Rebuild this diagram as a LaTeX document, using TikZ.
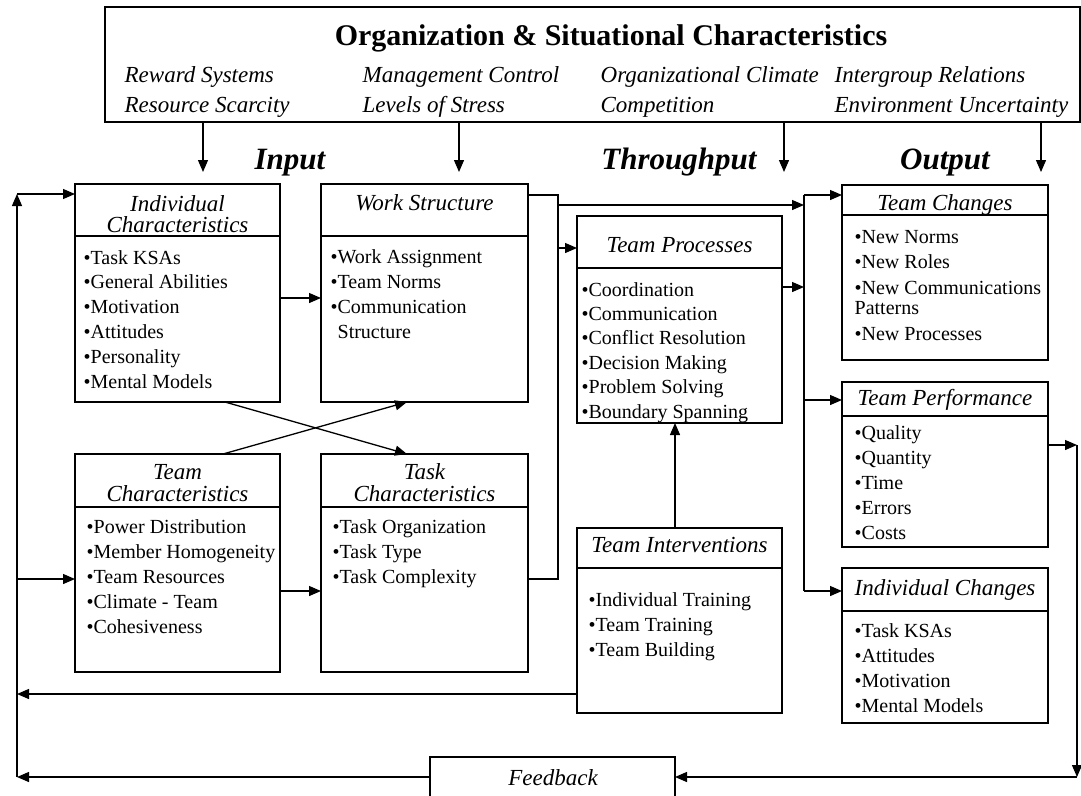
\documentclass[tikz,border=0pt]{standalone}
\usepackage{fontspec}
\setmainfont{Liberation Serif}
\usetikzlibrary{arrows.meta}

% a titled panel: name, x1, y1, x2, y2, y of the rule under the title
\newcommand\panel[6]{%
  \node[box, minimum width={#4-#2}, minimum height={#5-#3}] (#1) at ({(#2+#4)/2},{(#3+#5)/2}) {};
  \draw (#1.west |- 0,#6) -- (#1.east |- 0,#6);}
% a bulleted list: name prefix, x, first baseline, line step, items
\newcommand\bullets[5]{%
  \foreach \t [count=\i from 0] in {#5}
    \node[itm, name=#1-\i] at (#2,{#3+\i*#4}) {•\t};}

\begin{document}
\begin{tikzpicture}[x=1pt,y=-1pt,line width=1.3pt,
  arr/.style={-{Triangle[length=12pt,width=10pt]}},
  box/.style={draw,rectangle,inner sep=0pt,outer sep=0pt},
  ttl/.style={font=\fontsize{23}{23}\selectfont\itshape,inner sep=0pt,anchor=base},
  itm/.style={font=\fontsize{20}{20}\selectfont,inner sep=0pt,anchor=base west},
  org/.style={font=\fontsize{23}{23}\selectfont\itshape,inner sep=0pt,anchor=base west},
  phase/.style={font=\fontsize{31}{31}\selectfont\bfseries\itshape,inner sep=0pt,anchor=base}]
\useasboundingbox (0,0) rectangle (1081,795);

% organization and situational characteristics
\node[box,minimum width=975pt,minimum height=115pt] (orgbox) at (592.5,64.5) {};
\node[font=\fontsize{30}{30}\selectfont\bfseries,inner sep=0pt,anchor=base] (orgtitle) at (611,45) {Organization \& Situational Characteristics};
\node[org] (o1) at (124,82) {Reward Systems};
\node[org] (o2) at (362,82) {Management Control};
\node[org] (o3) at (600,82) {Organizational Climate};
\node[org] (o4) at (834,82) {Intergroup Relations};
\node[org] (o5) at (124,112) {Resource Scarcity};
\node[org] (o6) at (362,112) {Levels of Stress};
\node[org] (o7) at (600,112) {Competition};
\node[org] (o8) at (834,112) {Environment Uncertainty};

\foreach \x in {203,459,784,1041}
  \draw[arr] (orgbox.south -| \x,0) -- (\x,172);

\node[phase] (pin) at (290,169) {Input};
\node[phase] (pthru) at (679,169) {Throughput};
\node[phase] (pout) at (945,169) {Output};

% input panels
\panel{ind}{75}{184}{280}{402}{236}
\node[ttl] (indt1) at (177.5,211) {Individual};
\node[ttl] (indt2) at (177.5,232) {Characteristics};
\bullets{indi}{83}{264}{24.8}{Task KSAs,General Abilities,Motivation,Attitudes,Personality,Mental Models}

\panel{work}{321}{184}{528}{402}{236}
\node[ttl] (workt) at (424.5,210) {Work Structure};
\bullets{worki}{330}{263}{25}{Work Assignment,Team Norms,Communication}
\node[itm] (workc) at (337,338) {Structure};

\panel{teamc}{75}{454}{280}{672}{507}
\node[ttl] (teamct1) at (177.5,479) {Team};
\node[ttl] (teamct2) at (177.5,501) {Characteristics};
\bullets{teamci}{86}{533}{25}{Power Distribution,Member Homogeneity,Team Resources,Climate - Team,Cohesiveness}

\panel{task}{321}{454}{528}{672}{507}
\node[ttl] (taskt1) at (424.5,479) {Task};
\node[ttl] (taskt2) at (424.5,501) {Characteristics};
\bullets{taski}{332}{533}{25}{Task Organization,Task Type,Task Complexity}

% throughput panels
\panel{proc}{577}{216}{782}{423}{268}
\node[ttl] (proct) at (679.5,252) {Team Processes};
\bullets{proci}{581}{296}{24.4}{Coordination,Communication,Conflict Resolution,Decision Making,Problem Solving,Boundary Spanning}

\panel{interv}{577}{528}{782}{713}{568}
\node[ttl] (intervt) at (679.5,552) {Team Interventions};
\bullets{intervi}{588}{606}{25}{Individual Training,Team Training,Team Building}

% output panels
\panel{tchg}{842}{185}{1048}{360}{215}
\node[ttl] (tchgt) at (945,210) {Team Changes};
\bullets{tchgi}{854}{243}{25.5}{New Norms,New Roles,New Communications}
\node[itm] (tchgp) at (854,314) {Patterns};
\node[itm] (tchgn) at (854,340) {•New Processes};

\panel{perf}{842}{382}{1048}{547}{416}
\node[ttl] (perft) at (945,405) {Team Performance};
\bullets{perfi}{854}{439}{25.2}{Quality,Quantity,Time,Errors,Costs}

\panel{ichg}{842}{568}{1048}{723}{611}
\node[ttl] (ichgt) at (945,595) {Individual Changes};
\bullets{ichgi}{854}{637}{25.3}{Task KSAs,Attitudes,Motivation,Mental Models}

% feedback panel, running off the lower edge
\node[box,minimum width=245pt,minimum height=80pt] (feed) at (552.5,797) {};
\node[ttl] (feedt) at (553,785) {Feedback};

% arrows between the input panels
\draw[arr] (ind.east |- 0,298) -- (work.west |- 0,298);
\draw[arr] (teamc.east |- 0,591) -- (task.west |- 0,591);
\draw[arr] (ind.south -| 225,0) -- (task.north -| 407,0);
\draw[arr] (teamc.north -| 223,0) -- (work.south -| 407,0);

% input bus
\coordinate (b1t) at (558,195);
\coordinate (b1b) at (558,579);
\draw (work.east |- b1t) -- (b1t) -- (b1b) -- (task.east |- b1b);
\draw[arr] (558,205) -- (804,205);
\draw[arr] (558,248) -- (proc.west |- 0,248);

% throughput bus
\coordinate (b2t) at (804,195);
\coordinate (b2b) at (804,591);
\draw (b2t) -- (b2b);
\draw[arr] (b2t) -- (tchg.west |- b2t);
\draw[arr] (proc.east |- 0,287) -- (804,287);
\draw[arr] (804,400) -- (perf.west |- 0,400);
\draw[arr] (b2b) -- (ichg.west |- b2b);
\draw[arr] (interv.north -| 675,0) -- (proc.south -| 675,0);

% feedback loops
\coordinate (rt) at (1077,445);
\coordinate (rb) at (1077,777);
\draw[arr] (perf.east |- rt) -- (rt);
\draw[arr] (rt) -- (rb);
\draw[arr] (rb) -- (feed.east |- rb);

\coordinate (lt) at (17,194);
\coordinate (lb) at (17,777);
\draw[arr] (feed.west |- lb) -- (lb);
\draw[arr] (lb) -- (lt);
\draw[arr] (lt) -- (ind.west |- lt);
\draw[arr] (interv.west |- 0,694) -- (17,694);
\draw[arr] (17,579) -- (teamc.west |- 0,579);
\end{tikzpicture}
\end{document}
